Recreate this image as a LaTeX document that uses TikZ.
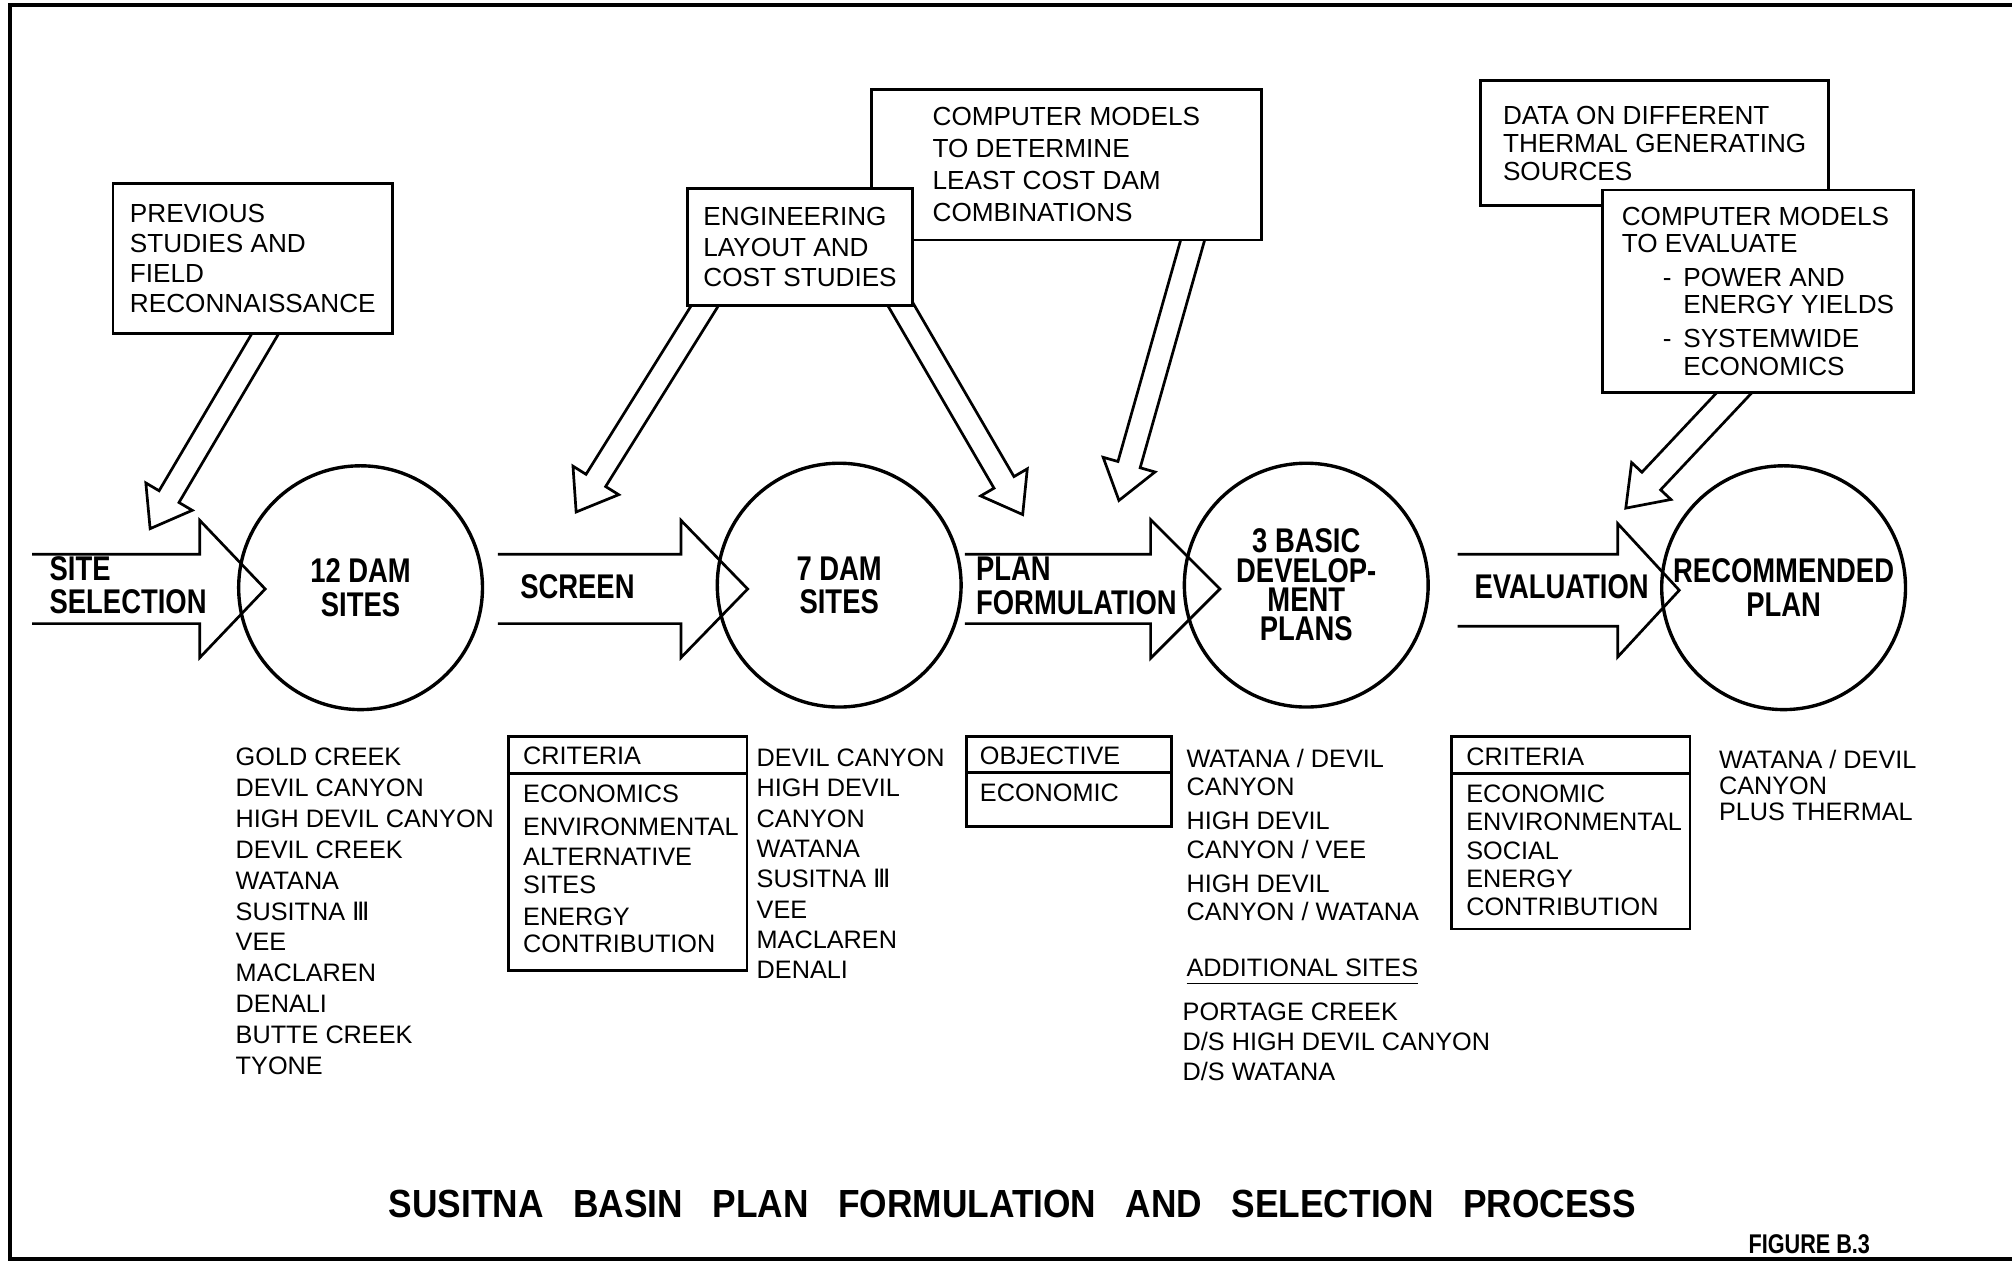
\documentclass[tikz,border=0pt]{standalone}
\usepackage{fontspec}
\setmainfont{Liberation Sans}
\newfontfamily\labelfont[FakeStretch=0.8]{Liberation Sans}
\newfontfamily\titlefont[FakeStretch=0.9]{Liberation Sans}
\newfontfamily\numeralfont{DejaVu Sans}
\usetikzlibrary{calc,positioning}
\pgfdeclarelayer{back}
\pgfsetlayers{back,main}

\newcommand{\numthree}{{\numeralfont\symbol{"2162}}}
% hollow arrow: base, tip, half shaft, half head, head length
\newcommand{\flowarrow}[5]{
  \coordinate (neck) at ($(#2)!#5!(#1)$);
  \draw[flow] ($(#1)!#3!90:(#2)$) -- ($(neck)!#3!90:(#2)$) -- ($(neck)!#4!90:(#2)$) -- (#2)
    -- ($(neck)!#4!-90:(#2)$) -- ($(neck)!#3!-90:(#2)$) -- ($(#1)!#3!-90:(#2)$);
}

\tikzset{
  txt/.style={font=\fontsize{5.8}{#1}\selectfont},
  listtxt/.style={font=\fontsize{5.6}{#1}\selectfont},
  infobox/.style={draw, fill=white, line width=0.6pt, align=left, inner sep=0pt},
  listtext/.style={anchor=north west, align=left, inner sep=0pt},
  headtext/.style={anchor=west, inner sep=0pt},
  tablebox/.style={draw, line width=0.6pt, anchor=north west, inner sep=0pt},
  damsite/.style={draw, circle, line width=0.75pt, minimum size=1.9cm, inner sep=0pt, align=center,
    font=\labelfont\bfseries\fontsize{7.6}{7.4}\selectfont},
  steplabel/.style={inner sep=0pt, align=left, font=\labelfont\bfseries\fontsize{7.6}{7.4}\selectfont},
  flow/.style={draw, fill=white, line width=0.6pt, line join=miter},
}

\begin{document}
\begin{tikzpicture}[y=-1cm]
\useasboundingbox (0,0) rectangle (15.68,9.84);
%frame
\draw[line width=0.8pt] (15.9,0.04) -- (0.08,0.04) -- (0.08,9.81) -- (15.9,9.81);

%input boxes
\node[infobox, txt=6.6, minimum width=2.18cm, minimum height=1.17cm] (prev) at (1.97,2.015) {PREVIOUS\\STUDIES AND\\FIELD\\RECONNAISSANCE};
\node[infobox, txt=7.1, minimum width=3.04cm, minimum height=1.17cm] (lcm) at (8.31,1.285) {COMPUTER MODELS\\TO DETERMINE\\LEAST COST DAM\\COMBINATIONS};
\node[infobox, txt=6.66, minimum width=1.75cm, minimum height=0.91cm] (eng) at (6.235,1.925) {ENGINEERING\\LAYOUT AND\\COST STUDIES};
\node[infobox, txt=6.2, minimum width=2.71cm, minimum height=0.97cm] (thermal) at (12.895,1.115) {DATA ON DIFFERENT\\THERMAL GENERATING\\SOURCES};
\node[infobox, txt=6.1, minimum width=2.42cm, minimum height=1.58cm] (evalcm) at (13.70,2.27) {COMPUTER MODELS\\TO EVALUATE\\[1.3pt]
  \hspace*{0.32cm}\makebox[0.16cm][l]{-}POWER AND\\\hspace*{0.48cm}ENERGY YIELDS\\[1.5pt]
  \hspace*{0.32cm}\makebox[0.16cm][l]{-}SYSTEMWIDE\\\hspace*{0.48cm}ECONOMICS};

%dam sites
\node[damsite] (dam12) at (2.81,4.58) {12 DAM\\SITES};
\node[damsite] (dam7) at (6.54,4.56) {7 DAM\\SITES};
\node[damsite, font=\labelfont\bfseries\fontsize{7.6}{6.5}\selectfont] (basic) at (10.18,4.56) {3 BASIC\\DEVELOP-\\MENT\\PLANS};
\node[damsite] (recplan) at (13.90,4.58) {RECOMMENDED\\PLAN};

%step labels
\node[steplabel, anchor=west] (sitesel) at (0.38,4.56) {SITE\\SELECTION};
\node[steplabel] (screen) at (4.50,4.57) {SCREEN};
\node[steplabel, anchor=west] (planform) at (7.60,4.565) {PLAN\\FORMULATION};
\node[steplabel] (evaluation) at (12.17,4.57) {EVALUATION};

%lists
\node[listtext, listtxt=6.86] (sites12) at (1.83,5.82) {GOLD CREEK\\DEVIL CANYON\\HIGH DEVIL CANYON\\DEVIL CREEK\\WATANA\\SUSITNA \numthree\\VEE\\MACLAREN\\DENALI\\BUTTE CREEK\\TYONE};

\node[tablebox, minimum width=1.86cm, minimum height=1.82cm] (crit1) at (3.95,5.73) {};
\draw[line width=0.6pt] ($(crit1.north west)+(0,0.30)$) -- ($(crit1.north east)+(0,0.30)$);
\node[headtext, listtxt=6.6] (crit1head) at (4.07,5.89) {CRITERIA};
\node[listtext, listtxt=6.1] (crit1list) at (4.07,6.107) {ECONOMICS\\[1.2pt]ENVIRONMENTAL\\[0.7pt]ALTERNATIVE\\SITES\\[1pt]ENERGY\\CONTRIBUTION};

\node[listtext, listtxt=6.72] (sites7) at (5.89,5.83) {DEVIL CANYON\\HIGH DEVIL\\CANYON\\WATANA\\SUSITNA \numthree\\VEE\\MACLAREN\\DENALI};

\node[tablebox, minimum width=1.60cm, minimum height=0.70cm] (objective) at (7.52,5.73) {};
\draw[line width=0.6pt] ($(objective.north west)+(0,0.29)$) -- ($(objective.north east)+(0,0.29)$);
\node[headtext, listtxt=6.6] (objhead) at (7.63,5.89) {OBJECTIVE};
\node[headtext, listtxt=6.6] (objlist) at (7.63,6.18) {ECONOMIC};

\node[listtext, listtxt=6.24] (plans3) at (9.24,5.83) {WATANA / DEVIL\\CANYON\\[1.4pt]HIGH DEVIL\\CANYON / VEE\\[1.4pt]HIGH DEVIL\\CANYON / WATANA};
\node[headtext, listtxt=6.6] (addl) at (9.24,7.58) {\underline{ADDITIONAL SITES}};
\node[listtext, listtxt=6.66] (addlsites) at (9.21,7.807) {PORTAGE CREEK\\D/S HIGH DEVIL CANYON\\D/S WATANA};

\node[tablebox, minimum width=1.86cm, minimum height=1.50cm] (crit2) at (11.30,5.73) {};
\draw[line width=0.6pt] ($(crit2.north west)+(0,0.30)$) -- ($(crit2.north east)+(0,0.30)$);
\node[headtext, listtxt=6.6] (crit2head) at (11.42,5.90) {CRITERIA};
\node[listtext, listtxt=6.3] (crit2list) at (11.42,6.107) {ECONOMIC\\ENVIRONMENTAL\\SOCIAL\\ENERGY\\CONTRIBUTION};

\node[listtext, listtxt=5.8] (recsite) at (13.39,5.84) {WATANA / DEVIL\\CANYON\\PLUS THERMAL};

%caption
\node[inner sep=0pt, font=\titlefont\bfseries\fontsize{8.7}{10}\selectfont] (title) at (7.89,9.38) {\spaceskip=0.75em SUSITNA BASIN PLAN FORMULATION AND SELECTION PROCESS};
\node[inner sep=0pt, font=\labelfont\bfseries\fontsize{6}{7}\selectfont] (fignum) at (14.10,9.70) {FIGURE B.3};

%arrows
\begin{pgfonlayer}{back}
\coordinate (selbase) at (0.25,4.59);
\coordinate (seltip) at ($(dam12.west)+(0.22,0.01)$);
\flowarrow{selbase}{seltip}{0.27cm}{0.535cm}{0.51cm}
\coordinate (scrbase) at (3.88,4.59);
\coordinate (scrtip) at ($(dam7.west)+(0.25,0.03)$);
\flowarrow{scrbase}{scrtip}{0.27cm}{0.535cm}{0.52cm}
\coordinate (formbase) at (7.52,4.59);
\coordinate (formtip) at ($(basic.west)+(0.29,0.03)$);
\flowarrow{formbase}{formtip}{0.27cm}{0.54cm}{0.54cm}
\coordinate (evalbase) at (11.36,4.60);
\coordinate (evaltip) at ($(recplan.west)+(0.15,0.02)$);
\flowarrow{evalbase}{evaltip}{0.28cm}{0.52cm}{0.48cm}

\coordinate (prevbase) at ($(prev.south)+(0.15,-0.10)$);
\coordinate (prevtip) at (1.17,4.12);
\flowarrow{prevbase}{prevtip}{0.09cm}{0.21cm}{0.29cm}
\coordinate (engbaseA) at ($(eng.south)+(-0.685,-0.10)$);
\coordinate (engtipA) at (4.49,3.99);
\flowarrow{engbaseA}{engtipA}{0.09cm}{0.21cm}{0.29cm}
\coordinate (engbaseB) at ($(eng.south)+(0.735,-0.10)$);
\coordinate (engtipB) at (7.97,4.01);
\flowarrow{engbaseB}{engtipB}{0.09cm}{0.21cm}{0.29cm}
\coordinate (lcmbase) at ($(lcm.south)+(1.01,-0.10)$);
\coordinate (lcmtip) at (8.72,3.90);
\flowarrow{lcmbase}{lcmtip}{0.09cm}{0.21cm}{0.29cm}
\coordinate (evalcmbase) at ($(evalcm.south)+(-0.10,-0.10)$);
\coordinate (evalcmtip) at (12.67,3.96);
\flowarrow{evalcmbase}{evalcmtip}{0.10cm}{0.21cm}{0.29cm}
\end{pgfonlayer}
\end{tikzpicture}
\end{document}
